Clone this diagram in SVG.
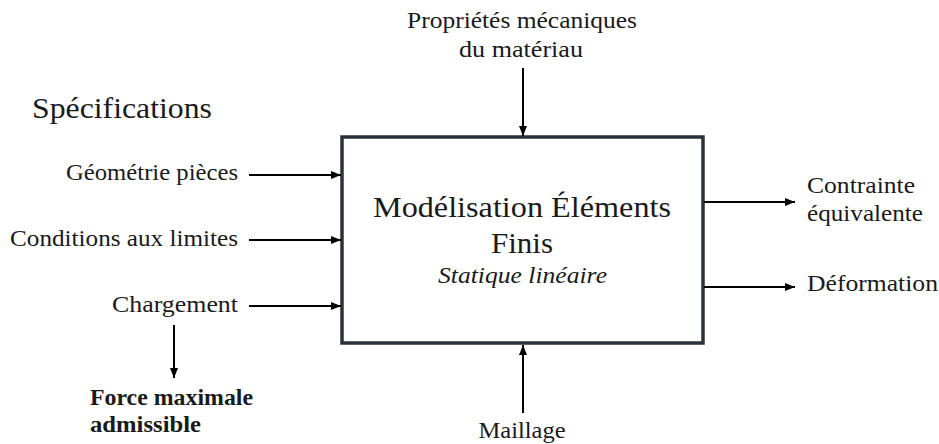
<svg xmlns="http://www.w3.org/2000/svg" width="939" height="444" viewBox="0 0 939 444">
  <style>
    text { font-family: "Liberation Serif", "Times New Roman", serif; fill: #1a1a1a; }
    .lbl { font-size: 23px; }
    .big { font-size: 29px; }
    .bold { font-weight: bold; }
    .ital { font-style: italic; font-size: 24px; }
    .conn { stroke: #000; stroke-width: 2; fill: none; marker-end: url(#arrow); }
    .box { fill: #fff; stroke: #2b313a; stroke-width: 3.5; }
  </style>
  <defs>
    <marker id="arrow" viewBox="0 0 10 10" refX="10" refY="5" markerWidth="5" markerHeight="5" orient="auto" markerUnits="strokeWidth">
      <path d="M0,1 L10,5 L0,9 z" fill="#000"/>
    </marker>
  </defs>
  <rect width="939" height="444" fill="#fff"/>

  <g id="title-specifications">
    <text class="big" x="32" y="118" textLength="180" lengthAdjust="spacingAndGlyphs">Spécifications</text>
  </g>

  <g id="node-fem">
    <rect class="box" x="342" y="137" width="361" height="206"/>
    <text class="big" x="373" y="217" textLength="298" lengthAdjust="spacingAndGlyphs">Modélisation Éléments</text>
    <text class="big" x="522" y="253" text-anchor="middle" textLength="62" lengthAdjust="spacingAndGlyphs">Finis</text>
    <text class="ital" x="438" y="283" textLength="169" lengthAdjust="spacingAndGlyphs">Statique linéaire</text>
  </g>

  <g id="input-geometrie">
    <text class="lbl" x="238" y="180" text-anchor="end" textLength="172" lengthAdjust="spacingAndGlyphs">Géométrie pièces</text>
  </g>
  <g id="input-conditions">
    <text class="lbl" x="238" y="246" text-anchor="end" textLength="228" lengthAdjust="spacingAndGlyphs">Conditions aux limites</text>
  </g>
  <g id="input-chargement">
    <text class="lbl" x="238" y="312" text-anchor="end" textLength="126" lengthAdjust="spacingAndGlyphs">Chargement</text>
  </g>
  <g id="output-force">
    <text class="lbl bold" x="90" y="405" textLength="163" lengthAdjust="spacingAndGlyphs">Force maximale</text>
    <text class="lbl bold" x="90" y="432" textLength="111" lengthAdjust="spacingAndGlyphs">admissible</text>
  </g>
  <g id="control-proprietes">
    <text class="lbl" x="522" y="28" text-anchor="middle" textLength="230" lengthAdjust="spacingAndGlyphs">Propriétés mécaniques</text>
    <text class="lbl" x="521" y="57" text-anchor="middle" textLength="124" lengthAdjust="spacingAndGlyphs">du matériau</text>
  </g>
  <g id="mechanism-maillage">
    <text class="lbl" x="522" y="438" text-anchor="middle" textLength="87" lengthAdjust="spacingAndGlyphs">Maillage</text>
  </g>
  <g id="output-contrainte">
    <text class="lbl" x="807" y="193" textLength="108" lengthAdjust="spacingAndGlyphs">Contrainte</text>
    <text class="lbl" x="807" y="221" textLength="116" lengthAdjust="spacingAndGlyphs">équivalente</text>
  </g>
  <g id="output-deformation">
    <text class="lbl" x="807" y="291" textLength="131" lengthAdjust="spacingAndGlyphs">Déformation</text>
  </g>

  <g id="connectors">
    <line class="conn" x1="249" y1="175" x2="341" y2="175"/>
    <line class="conn" x1="249" y1="240" x2="341" y2="240"/>
    <line class="conn" x1="249" y1="306" x2="341" y2="306"/>
    <line class="conn" x1="174" y1="325" x2="174" y2="378"/>
    <line class="conn" x1="523" y1="68" x2="523" y2="136"/>
    <line class="conn" x1="523" y1="413" x2="523" y2="345"/>
    <line class="conn" x1="704" y1="202" x2="795" y2="202"/>
    <line class="conn" x1="704" y1="287" x2="795" y2="287"/>
  </g>
</svg>
